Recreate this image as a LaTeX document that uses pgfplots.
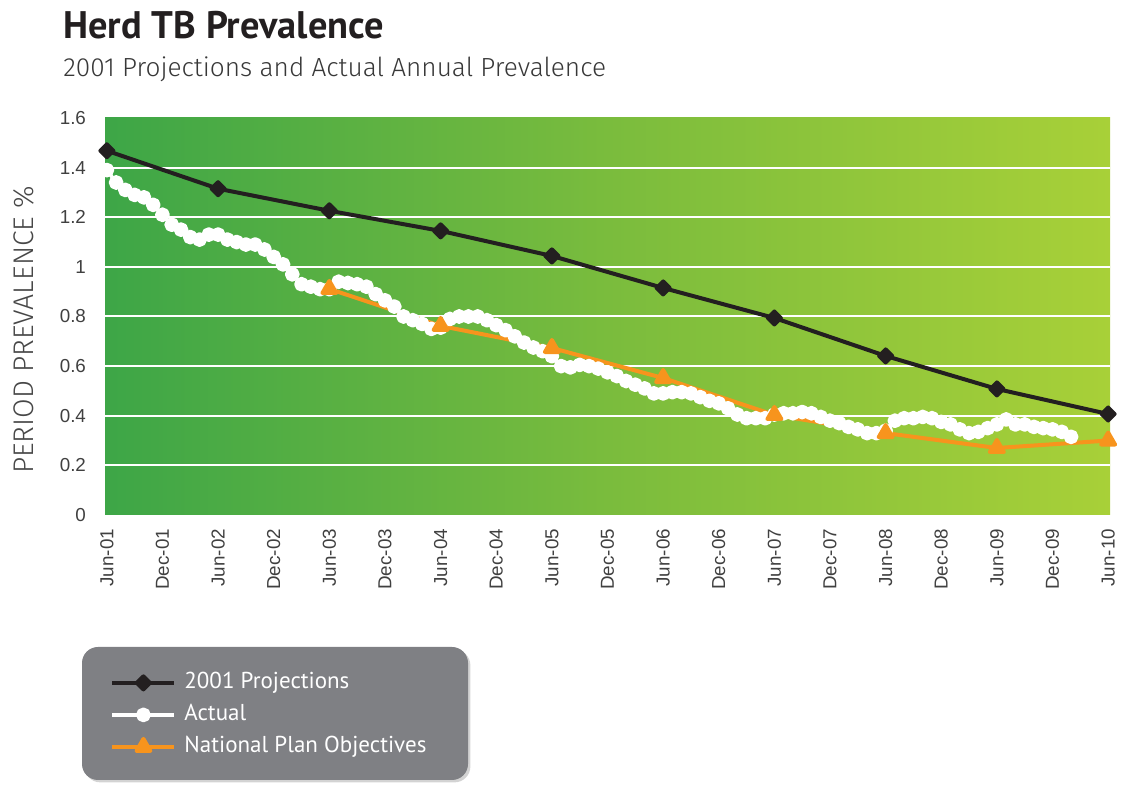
\documentclass[border=0pt]{standalone}
\usepackage{fontspec}
\usepackage{pgfplots}
\pgfplotsset{compat=1.18}
\usetikzlibrary{shadows}
\setmainfont{Liberation Sans}
\newfontfamily\titlefont{PT Sans}
\newfontfamily\lightfont{Fira Sans Light}
\definecolor{bgL}{RGB}{61,166,71}
\definecolor{bgM}{RGB}{122,188,61}
\definecolor{bgR}{RGB}{168,208,56}
\definecolor{projblack}{RGB}{35,31,32}
\definecolor{planorange}{RGB}{247,148,29}
\definecolor{legendgrey}{RGB}{127,128,132}
\definecolor{ticktext}{RGB}{64,64,64}

\pgfplotstableread{
m v
0 1.39
1 1.34
2 1.31
3 1.29
4 1.28
5 1.25
6 1.21
7 1.17
8 1.15
9 1.12
10 1.11
11 1.13
12 1.13
13 1.11
14 1.10
15 1.09
16 1.09
17 1.07
18 1.04
19 1.01
20 0.97
21 0.93
22 0.92
23 0.91
24 0.91
25 0.94
26 0.935
27 0.93
28 0.92
29 0.89
30 0.865
31 0.84
32 0.80
33 0.785
34 0.77
35 0.75
36 0.755
37 0.79
38 0.80
39 0.80
40 0.80
41 0.785
42 0.765
43 0.745
44 0.72
45 0.695
46 0.675
47 0.66
48 0.64
49 0.60
50 0.595
51 0.605
52 0.60
53 0.59
54 0.575
55 0.56
56 0.54
57 0.525
58 0.51
59 0.49
60 0.49
61 0.495
62 0.495
63 0.49
64 0.475
65 0.46
66 0.45
67 0.43
68 0.405
69 0.39
70 0.39
71 0.39
72 0.405
73 0.41
74 0.41
75 0.415
76 0.41
77 0.395
78 0.38
79 0.37
80 0.355
81 0.345
82 0.33
83 0.33
84 0.34
85 0.38
86 0.39
87 0.39
88 0.395
89 0.39
90 0.375
91 0.365
92 0.345
93 0.33
94 0.335
95 0.35
96 0.365
97 0.385
98 0.365
99 0.365
100 0.355
101 0.35
102 0.345
103 0.335
104 0.315
}\actualdata

\begin{document}
\begin{tikzpicture}
\useasboundingbox (0,0) rectangle (562.5pt,392.5pt);
\node[anchor=base west, inner sep=0pt, text=projblack] at (31.5pt,373pt) {\titlefont\bfseries\fontsize{19.2}{21}\selectfont Herd TB Prevalence};
\node[anchor=base west, inner sep=0pt, text=black!78] at (31.5pt,354pt) {\lightfont\fontsize{13.1}{15}\selectfont 2001 Projections and Actual Annual Prevalence};
\fill[legendgrey, rounded corners=8pt, drop shadow={shadow xshift=1.2pt, shadow yshift=-1.2pt, opacity=0.35}] (41pt,2.5pt) rectangle (234pt,69pt);
\begin{axis}[
  at={(52.5pt,135pt)}, anchor=south west,
  scale only axis, width=502.5pt, height=198.5pt,
  xmin=-0.2, xmax=108.2, ymin=0, ymax=1.6,
  clip=false,
  axis line style={draw=none},
  major tick length=0pt,
  xtick={0,6,12,18,24,30,36,42,48,54,60,66,72,78,84,90,96,102,108},
  xticklabels={Jun-01,Dec-01,Jun-02,Dec-02,Jun-03,Dec-03,Jun-04,Dec-04,Jun-05,Dec-05,Jun-06,Dec-06,Jun-07,Dec-07,Jun-08,Dec-08,Jun-09,Dec-09,Jun-10},
  ytick={0.2,0.4,0.6,0.8,1,1.2,1.4},
  extra y ticks={0,1.6},
  extra y tick style={grid=none},
  ymajorgrids,
  grid style={white, line width=1pt},
  axis background/.style={left color=bgL, right color=bgR, middle color=bgM},
  /pgf/number format/assume math mode=true,
  tick label style={font=\fontsize{9.4}{10}\selectfont, text=ticktext},
  xticklabel style={rotate=90, anchor=east},
  xticklabel shift=3.5pt,
  yticklabel shift=6pt,
  ylabel={PERIOD PREVALENCE \%},
  ylabel style={at={(axis description cs:-0.0806,0.466)}, anchor=center, font=\lightfont\fontsize{14.2}{16}\selectfont, text=black!72},
  legend style={at={(axis description cs:0.005,-0.398)}, anchor=north west, draw=none, fill=none, inner sep=0pt, row sep=6.5pt, column sep=4pt, nodes={inner sep=0pt, text height=7.5pt, text depth=2pt, text=white, font=\titlefont\fontsize{11.5}{13}\selectfont}},
  legend cell align=left,
  legend image code/.code={\draw[mark repeat=2,mark phase=2,#1] plot coordinates {(0pt,0pt) (15.5pt,0pt) (31pt,0pt)};},
]
\addplot[projblack, line width=2pt, line join=round, mark=square*, mark size=2.3pt, mark options={rotate=45, fill=projblack, draw=projblack}] coordinates {
(0,1.468) (12,1.315) (24,1.226) (36,1.145) (48,1.044) (60,0.915) (72,0.794) (84,0.641) (96,0.508) (108,0.407)};
\addlegendentry{2001 Projections}
\addplot[white, line width=1.8pt, line join=round, mark=*, mark size=2.8pt, mark options={fill=white, draw=white}] table[x=m, y=v] {\actualdata};
\addlegendentry{Actual}
\addplot[planorange, line width=2pt, line join=round, mark=triangle*, mark size=4pt, mark options={fill=planorange, draw=planorange}] coordinates {
(24,0.911) (36,0.762) (48,0.673) (60,0.552) (72,0.403) (84,0.33) (96,0.27) (108,0.30)};
\addlegendentry{National Plan Objectives}
\end{axis}
\end{tikzpicture}
\end{document}
